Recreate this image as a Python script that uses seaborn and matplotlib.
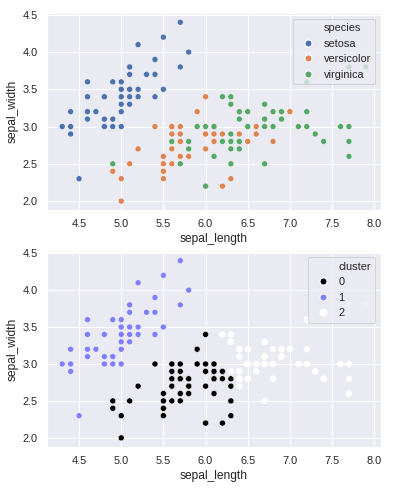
import pandas as pd
import matplotlib.pyplot as plt
import seaborn as sns
from matplotlib.lines import Line2D

# iris sepal measurements (setosa, versicolor, virginica - 50 each)
sepal_length = [
    5.1, 4.9, 4.7, 4.6, 5.0, 5.4, 4.6, 5.0, 4.4, 4.9,
    5.4, 4.8, 4.8, 4.3, 5.8, 5.7, 5.4, 5.1, 5.7, 5.1,
    5.4, 5.1, 4.6, 5.1, 4.8, 5.0, 5.0, 5.2, 5.2, 4.7,
    4.8, 5.4, 5.2, 5.5, 4.9, 5.0, 5.5, 4.9, 4.4, 5.1,
    5.0, 4.5, 4.4, 5.0, 5.1, 4.8, 5.1, 4.6, 5.3, 5.0,
    7.0, 6.4, 6.9, 5.5, 6.5, 5.7, 6.3, 4.9, 6.6, 5.2,
    5.0, 5.9, 6.0, 6.1, 5.6, 6.7, 5.6, 5.8, 6.2, 5.6,
    5.9, 6.1, 6.3, 6.1, 6.4, 6.6, 6.8, 6.7, 6.0, 5.7,
    5.5, 5.5, 5.8, 6.0, 5.4, 6.0, 6.7, 6.3, 5.6, 5.5,
    5.5, 6.1, 5.8, 5.0, 5.6, 5.7, 5.7, 6.2, 5.1, 5.7,
    6.3, 5.8, 7.1, 6.3, 6.5, 7.6, 4.9, 7.3, 6.7, 7.2,
    6.5, 6.4, 6.8, 5.7, 5.8, 6.4, 6.5, 7.7, 7.7, 6.0,
    6.9, 5.6, 7.7, 6.3, 6.7, 7.2, 6.2, 6.1, 6.4, 7.2,
    7.4, 7.9, 6.4, 6.3, 6.1, 7.7, 6.3, 6.4, 6.0, 6.9,
    6.7, 6.9, 5.8, 6.8, 6.7, 6.7, 6.3, 6.5, 6.2, 5.9,
]
sepal_width = [
    3.5, 3.0, 3.2, 3.1, 3.6, 3.9, 3.4, 3.4, 2.9, 3.1,
    3.7, 3.4, 3.0, 3.0, 4.0, 4.4, 3.9, 3.5, 3.8, 3.8,
    3.4, 3.7, 3.6, 3.3, 3.4, 3.0, 3.4, 3.5, 3.4, 3.2,
    3.1, 3.4, 4.1, 4.2, 3.1, 3.2, 3.5, 3.6, 3.0, 3.4,
    3.5, 2.3, 3.2, 3.5, 3.8, 3.0, 3.8, 3.2, 3.7, 3.3,
    3.2, 3.2, 3.1, 2.3, 2.8, 2.8, 3.3, 2.4, 2.9, 2.7,
    2.0, 3.0, 2.2, 2.9, 2.9, 3.1, 3.0, 2.7, 2.2, 2.5,
    3.2, 2.8, 2.5, 2.8, 2.9, 3.0, 2.8, 3.0, 2.9, 2.6,
    2.4, 2.4, 2.7, 2.7, 3.0, 3.4, 3.1, 2.3, 3.0, 2.5,
    2.6, 3.0, 2.6, 2.3, 2.7, 3.0, 2.9, 2.9, 2.5, 2.8,
    3.3, 2.7, 3.0, 2.9, 3.0, 3.0, 2.5, 2.9, 2.5, 3.6,
    3.2, 2.7, 3.0, 2.5, 2.8, 3.2, 3.0, 3.8, 2.6, 2.2,
    3.2, 2.8, 2.8, 2.7, 3.3, 3.2, 2.8, 3.0, 2.8, 3.0,
    2.8, 3.8, 2.8, 2.8, 2.6, 3.0, 3.4, 3.1, 3.0, 3.1,
    3.1, 3.1, 2.7, 3.2, 3.3, 3.0, 2.5, 3.0, 3.4, 3.0,
]
species = ['setosa'] * 50 + ['versicolor'] * 50 + ['virginica'] * 50

# cluster labels
cluster = (
    [1] * 50 +
    [2, 2, 2, 0, 2, 0, 2, 0, 2, 0,
     0, 0, 0, 0, 0, 2, 0, 0, 0, 0,
     0, 0, 0, 0, 2, 2, 2, 2, 0, 0,
     0, 0, 0, 0, 0, 0, 2, 0, 0, 0,
     0, 0, 0, 0, 0, 0, 0, 0, 0, 0] +
    [2, 0, 2, 2, 2, 2, 0, 2, 2, 2,
     2, 2, 2, 0, 0, 2, 2, 2, 2, 0,
     2, 0, 2, 0, 2, 2, 0, 0, 2, 2,
     2, 2, 2, 0, 0, 2, 2, 2, 0, 2,
     2, 2, 0, 2, 2, 2, 0, 2, 2, 0]
)
cluster_colors = ['black', '#7f7fff', 'white']

data = pd.DataFrame({'sepal_length': sepal_length,
                     'sepal_width': sepal_width,
                     'species': species,
                     'cluster': cluster})

sns.set_theme()
plt.rcParams['font.family'] = ['Liberation Sans', 'DejaVu Sans']

fig = plt.figure(figsize=(394 / 72, 488 / 72), dpi=72)
ax1 = fig.add_axes([0.1193, 0.5697, 0.8477, 0.403])
ax2 = fig.add_axes([0.1193, 0.0846, 0.8477, 0.3996])

# 1 species
sns.scatterplot(data=data, x='sepal_length', y='sepal_width', hue='species', ax=ax1)

# 2 clusters
sns.scatterplot(data=data, x='sepal_length', y='sepal_width', hue='cluster',
                palette=cluster_colors, ax=ax2)


def old_style_legend(ax, title):
    # title as a first, blank-marker entry (like older seaborn)
    handles, labels = ax.get_legend_handles_labels()
    new_handles = [Line2D([], [], linestyle='', marker='')]
    for h in handles:
        c = h.get_markerfacecolor() if isinstance(h, Line2D) else h.get_facecolor()[0]
        new_handles.append(Line2D([], [], linestyle='', marker='o', markersize=7,
                                  markerfacecolor=c, markeredgecolor='white'))
    ax.legend(new_handles, [title] + labels, loc='upper right', fontsize=11,
              handletextpad=0.4, borderaxespad=0.5)


for ax in (ax1, ax2):
    ax.set_xticks([4.5, 5.0, 5.5, 6.0, 6.5, 7.0, 7.5, 8.0])
    ax.set_yticks([2.0, 2.5, 3.0, 3.5, 4.0, 4.5])
    ax.set_xlim(4.12, 8.08)
    ax.set_ylim(1.88, 4.52)

old_style_legend(ax1, 'species')
old_style_legend(ax2, 'cluster')

plt.savefig('out.png', dpi=72)
